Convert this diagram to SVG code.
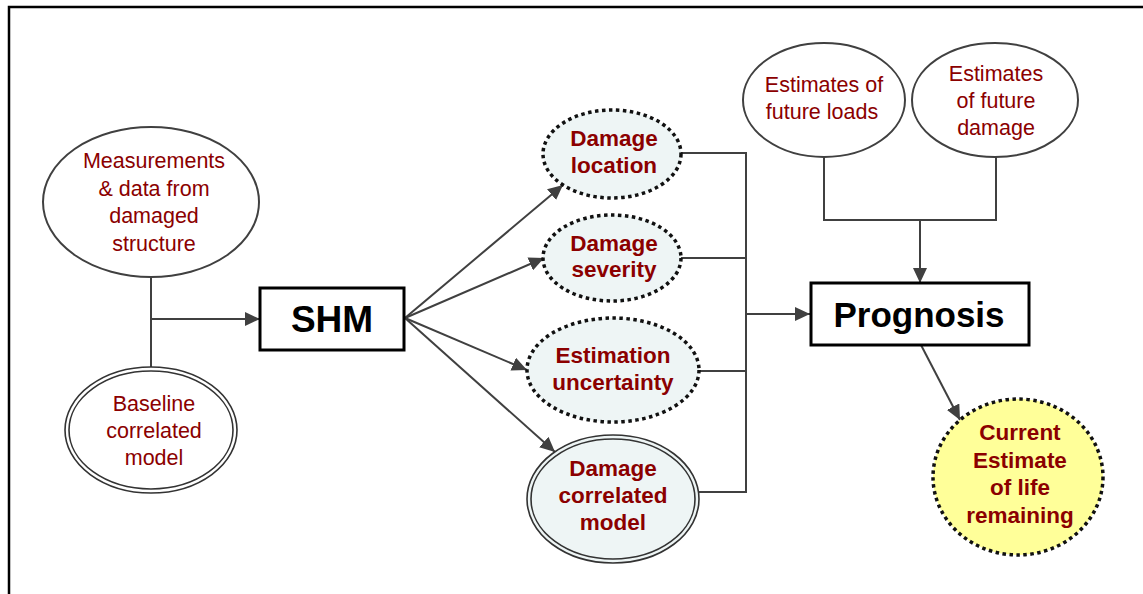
<svg xmlns="http://www.w3.org/2000/svg" width="1143" height="594" viewBox="0 0 1143 594">
<style>
.reg{font-family:"Liberation Sans",Arial,sans-serif;font-size:21.5px;fill:#8B0000;text-anchor:middle}
.bold{font-family:"Liberation Sans",Arial,sans-serif;font-size:22.5px;font-weight:bold;fill:#8B0000;text-anchor:middle}
.big{font-family:"Liberation Sans",Arial,sans-serif;font-weight:bold;fill:#000;text-anchor:middle}
.plain{fill:#fff;stroke:#404040;stroke-width:2}
.dot{fill:#EEF5F5;stroke:#111;stroke-width:3.5;stroke-dasharray:3.5 3.5}
.dbl{fill:none;stroke:#333;stroke-width:1.6}
.box{fill:#fff;stroke:#000;stroke-width:3}
.conn{fill:none;stroke:#404040;stroke-width:2}
</style>
<defs>
<marker id="arr" markerUnits="userSpaceOnUse" markerWidth="16" markerHeight="14" refX="15" refY="7" orient="auto">
<path d="M0,0 L15,7 L0,14 z" fill="#404040"/>
</marker>
</defs>
<rect width="1143" height="594" fill="#fff"/>
<path d="M9,594 V7 H1143" fill="none" stroke="#000" stroke-width="2.5"/>

<g id="connectors">
<path class="conn" d="M151,277 V367"/>
<path class="conn" d="M151,319 H260" marker-end="url(#arr)"/>
<path class="conn" d="M405,318 L563,185" marker-end="url(#arr)"/>
<path class="conn" d="M405,318 L544,258" marker-end="url(#arr)"/>
<path class="conn" d="M405,318 L527,370" marker-end="url(#arr)"/>
<path class="conn" d="M405,318 L555,452" marker-end="url(#arr)"/>
<path class="conn" d="M681,153 H746 V492 H699"/>
<path class="conn" d="M681,258 H746"/>
<path class="conn" d="M699,371 H746"/>
<path class="conn" d="M746,314 H810" marker-end="url(#arr)"/>
<path class="conn" d="M824,157 V220 H996 V157"/>
<path class="conn" d="M920,220 V283" marker-end="url(#arr)"/>
<path class="conn" d="M921,345 L960,420" marker-end="url(#arr)"/>
</g>

<g id="measurements">
<ellipse class="plain" cx="151" cy="202" rx="108" ry="75"/>
<text class="reg" x="154" y="168">Measurements</text>
<text class="reg" x="154" y="196">&amp; data from</text>
<text class="reg" x="154" y="223">damaged</text>
<text class="reg" x="154" y="251">structure</text>
</g>

<g id="baseline">
<ellipse cx="151" cy="430" rx="86" ry="63" fill="#fff"/>
<ellipse class="dbl" cx="151" cy="430" rx="86" ry="63"/>
<ellipse class="dbl" cx="151" cy="430" rx="82" ry="59"/>
<text class="reg" x="154" y="411">Baseline</text>
<text class="reg" x="154" y="438">correlated</text>
<text class="reg" x="154" y="465">model</text>
</g>

<g id="shm">
<rect class="box" x="260" y="288" width="144" height="62"/>
<text class="big" x="332" y="332" font-size="37">SHM</text>
</g>

<g id="damage-location">
<ellipse class="dot" cx="612" cy="154" rx="69" ry="44"/>
<text class="bold" x="614" y="146">Damage</text>
<text class="bold" x="614" y="173">location</text>
</g>

<g id="damage-severity">
<ellipse class="dot" cx="612" cy="258" rx="69" ry="43"/>
<text class="bold" x="614" y="251">Damage</text>
<text class="bold" x="614" y="277">severity</text>
</g>

<g id="estimation-uncertainty">
<ellipse class="dot" cx="613" cy="370" rx="86" ry="52"/>
<text class="bold" x="613" y="363">Estimation</text>
<text class="bold" x="613" y="390">uncertainty</text>
</g>

<g id="damage-correlated-model">
<ellipse cx="613" cy="499" rx="86" ry="64" fill="#EEF5F5"/>
<ellipse class="dbl" cx="613" cy="499" rx="86" ry="64"/>
<ellipse class="dbl" cx="613" cy="499" rx="82" ry="60"/>
<text class="bold" x="613" y="476">Damage</text>
<text class="bold" x="613" y="503">correlated</text>
<text class="bold" x="613" y="530">model</text>
</g>

<g id="future-loads">
<ellipse class="plain" cx="824" cy="100" rx="81" ry="57"/>
<text class="reg" x="824" y="92">Estimates of</text>
<text class="reg" x="822" y="119">future loads</text>
</g>

<g id="future-damage">
<ellipse class="plain" cx="995" cy="100" rx="83" ry="57"/>
<text class="reg" x="996" y="81">Estimates</text>
<text class="reg" x="996" y="108">of future</text>
<text class="reg" x="996" y="135">damage</text>
</g>

<g id="prognosis">
<rect class="box" x="811" y="283" width="218" height="62"/>
<text class="big" x="919" y="327" font-size="35">Prognosis</text>
</g>

<g id="current-estimate">
<ellipse cx="1018" cy="477" rx="85" ry="78" fill="#FFFF99" stroke="#111" stroke-width="3.5" stroke-dasharray="3.5 3.5"/>
<text class="bold" x="1020" y="440">Current</text>
<text class="bold" x="1020" y="468">Estimate</text>
<text class="bold" x="1020" y="495">of life</text>
<text class="bold" x="1020" y="523">remaining</text>
</g>
</svg>
